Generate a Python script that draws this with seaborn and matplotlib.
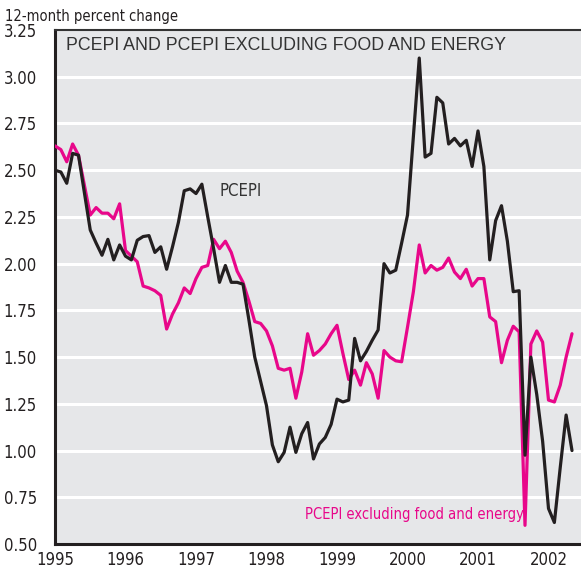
import numpy as np
import pandas as pd
import seaborn as sns
import matplotlib.pyplot as plt
from matplotlib import font_manager

# monthly 12-month percent change, Jan 1995 - May 2002
pcepi = [
    2.50, 2.49, 2.43, 2.59, 2.58, 2.38, 2.18, 2.11, 2.045, 2.13, 2.02, 2.10,   # 1995
    2.04, 2.02, 2.125, 2.145, 2.15, 2.06, 2.09, 1.97, 2.09, 2.22, 2.39, 2.40,  # 1996
    2.375, 2.425, 2.25, 2.08, 1.90, 1.99, 1.90, 1.90, 1.89, 1.70, 1.50, 1.37,  # 1997
    1.24, 1.03, 0.94, 0.99, 1.125, 0.99, 1.09, 1.15, 0.955, 1.035, 1.07, 1.14, # 1998
    1.275, 1.26, 1.27, 1.60, 1.48, 1.53, 1.59, 1.645, 2.00, 1.95, 1.965, 2.11, # 1999
    2.26, 2.68, 3.10, 2.57, 2.59, 2.89, 2.86, 2.64, 2.67, 2.63, 2.66, 2.52,    # 2000
    2.71, 2.52, 2.02, 2.23, 2.31, 2.12, 1.85, 1.855, 0.975, 1.50, 1.30, 1.05,  # 2001
    0.69, 0.615, 0.91, 1.19, 1.00,                                             # 2002
]
pcepi_core = [
    2.63, 2.61, 2.545, 2.64, 2.58, 2.42, 2.26, 2.30, 2.27, 2.27, 2.24, 2.32,   # 1995
    2.07, 2.04, 2.01, 1.88, 1.87, 1.855, 1.83, 1.65, 1.73, 1.79, 1.87, 1.84,   # 1996
    1.92, 1.98, 1.99, 2.13, 2.08, 2.12, 2.06, 1.96, 1.90, 1.80, 1.69, 1.68,    # 1997
    1.64, 1.56, 1.44, 1.43, 1.44, 1.28, 1.42, 1.625, 1.51, 1.535, 1.57, 1.625, # 1998
    1.67, 1.52, 1.38, 1.43, 1.35, 1.47, 1.41, 1.28, 1.535, 1.50, 1.48, 1.475,  # 1999
    1.66, 1.85, 2.10, 1.95, 1.99, 1.965, 1.98, 2.03, 1.955, 1.92, 1.97, 1.88,  # 2000
    1.92, 1.92, 1.715, 1.69, 1.47, 1.59, 1.665, 1.635, 0.60, 1.57, 1.64, 1.58, # 2001
    1.27, 1.26, 1.35, 1.50, 1.625,                                             # 2002
]
years = list(range(1995, 2003))
yticks = [0.50, 0.75, 1.00, 1.25, 1.50, 1.75, 2.00, 2.25, 2.50, 2.75, 3.00, 3.25]

t = 1995 + np.arange(len(pcepi)) / 12.0
df = pd.DataFrame({'t': t, 'PCEPI': pcepi, 'Core': pcepi_core})

sns.set_style('white')
plt.rcParams['font.family'] = ['DejaVu Sans']
# condensed face for the small labels
cond = font_manager.FontProperties(family='DejaVu Sans', stretch='condensed')

fig = plt.figure(figsize=(5.81, 5.71), dpi=100)
ax = fig.add_axes([55 / 581, 1 - 544 / 571, 1 - 55 / 581, 514 / 571])
ax.set_facecolor('#e6e7e9')

for v in yticks[1:-1]:
    ax.axhline(v, color='white', lw=2.2, zorder=1)

sns.lineplot(data=df, x='t', y='Core', ax=ax, color='#e8078a', lw=2.3, zorder=3)
sns.lineplot(data=df, x='t', y='PCEPI', ax=ax, color='#231f20', lw=2.3, zorder=4)

ax.set_xlim(1995, 1995 + 526 / 70.5)
ax.set_ylim(0.5, 3.25)
ax.set_xticks(years)
ax.set_yticks(yticks)
ax.set_xticklabels([str(y) for y in years], fontproperties=cond, fontsize=12)
ax.set_yticklabels(['%.2f' % v for v in yticks], fontproperties=cond, fontsize=12)
ax.tick_params(axis='both', direction='in', length=12, width=2, color='#231f20',
               labelcolor='#231f20')
ax.tick_params(axis='y', pad=13)
ax.tick_params(axis='x', pad=5)
ax.set_xlabel('')
ax.set_ylabel('')

for s in ['left', 'bottom']:
    ax.spines[s].set_color('#231f20')
    ax.spines[s].set_linewidth(2.2)
ax.spines['top'].set_color('#333333')
ax.spines['top'].set_linewidth(1.5)
ax.spines['right'].set_visible(False)

fig.text(5 / 581, 1 - 16 / 571, '12-month percent change', fontproperties=cond,
         fontsize=10.5, color='#231f20', va='center', ha='left')
ax.text(11 / 526, 1 - 15 / 514, 'PCEPI AND PCEPI EXCLUDING FOOD AND ENERGY',
        transform=ax.transAxes, fontsize=12.8, color='#333333', va='center',
        ha='left', family=['Liberation Sans', 'DejaVu Sans'])
ax.text(1997.33, 2.39, 'PCEPI', fontproperties=cond, fontsize=12,
        color='#333333', va='center', ha='left')
ax.text(1998.55, 0.66, 'PCEPI excluding food and energy', fontproperties=cond,
        fontsize=10.5, color='#e8078a', va='center', ha='left')

fig.savefig('out.png', dpi=100)
